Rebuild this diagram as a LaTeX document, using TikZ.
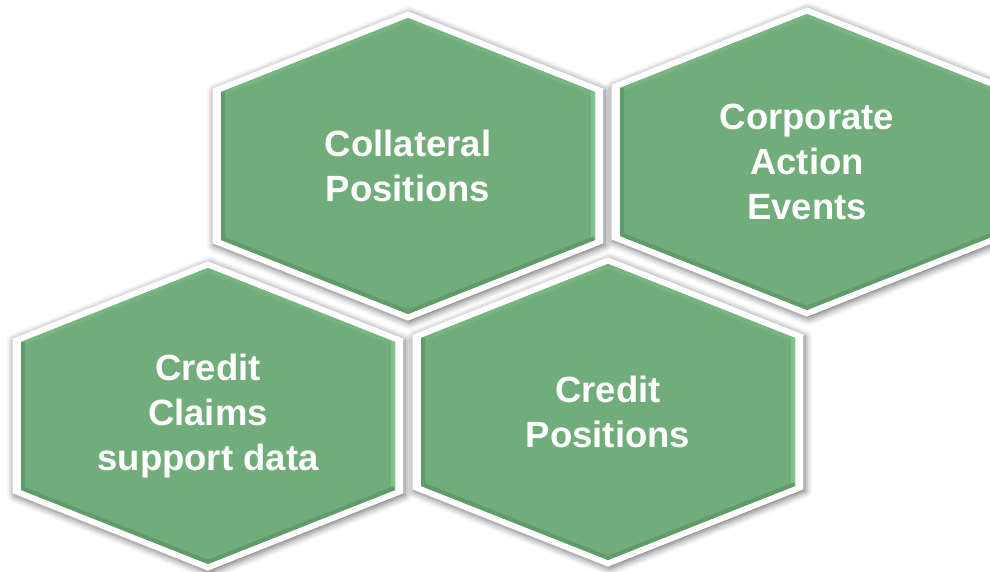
\documentclass[tikz,border=0pt]{standalone}
\usepackage{fontspec}
\setmainfont{Liberation Sans}
\usetikzlibrary{shadows.blur}

\definecolor{hexgreen}{RGB}{112,173,122}
\definecolor{hexlight}{RGB}{128,194,139}
\definecolor{hexmid}{RGB}{118,180,128}
\definecolor{hexdark}{RGB}{97,155,107}

\begin{document}
\begin{tikzpicture}[x=1pt, y=-1pt,
    hexshape/.style={insert path={(0,-148) -- (187,-74) -- (187,74) -- (0,148) -- (-187,74) -- (-187,-74) -- cycle}},
    hexrim/.style={fill=white, blur shadow={shadow xshift=1.5pt, shadow yshift=-2pt, shadow blur radius=7pt, shadow opacity=60}},
    hexfill/.style={fill=hexgreen},
    bevellight/.style={draw=hexlight, line width=8pt},
    bevelmid/.style={draw=hexmid, line width=8pt},
    beveldark/.style={draw=hexdark, line width=8pt},
    hexlabel/.style={text=white, align=center, font=\fontsize{36.5}{45}\selectfont\bfseries}]

        \useasboundingbox (0,0) rectangle (990,572);

        \begin{scope}[shift={(408,166)}]
            \path[hexrim, scale=1.045, hexshape];
            \path[hexfill, hexshape];
            \begin{scope}
                \clip[hexshape];
                \draw[bevelmid] (-187,-74) -- (0,-148) -- (187,-74);
                \draw[bevellight] (187,-74) -- (187,74);
                \draw[beveldark] (187,74) -- (0,148) -- (-187,74) -- (-187,-74);
            \end{scope}
            \node[hexlabel] (collateral) at (0,0) {Collateral\\Positions};
        \end{scope}

        \begin{scope}[shift={(807,162)}]
            \path[hexrim, scale=1.045, hexshape];
            \path[hexfill, hexshape];
            \begin{scope}
                \clip[hexshape];
                \draw[bevelmid] (-187,-74) -- (0,-148) -- (187,-74);
                \draw[bevellight] (187,-74) -- (187,74);
                \draw[beveldark] (187,74) -- (0,148) -- (-187,74) -- (-187,-74);
            \end{scope}
            \node[hexlabel] (corporate) at (0,0) {Corporate\\Action\\Events};
        \end{scope}

        \begin{scope}[shift={(208,416)}]
            \path[hexrim, scale=1.045, hexshape];
            \path[hexfill, hexshape];
            \begin{scope}
                \clip[hexshape];
                \draw[bevelmid] (-187,-74) -- (0,-148) -- (187,-74);
                \draw[bevellight] (187,-74) -- (187,74);
                \draw[beveldark] (187,74) -- (0,148) -- (-187,74) -- (-187,-74);
            \end{scope}
            \node[hexlabel] (claims) at (0,0) {Credit\\Claims\\support data};
        \end{scope}

        \begin{scope}[shift={(608,412)}]
            \path[hexrim, scale=1.045, hexshape];
            \path[hexfill, hexshape];
            \begin{scope}
                \clip[hexshape];
                \draw[bevelmid] (-187,-74) -- (0,-148) -- (187,-74);
                \draw[bevellight] (187,-74) -- (187,74);
                \draw[beveldark] (187,74) -- (0,148) -- (-187,74) -- (-187,-74);
            \end{scope}
            \node[hexlabel] (credit) at (0,0) {Credit\\Positions};
        \end{scope}

    \end{tikzpicture}
\end{document}
